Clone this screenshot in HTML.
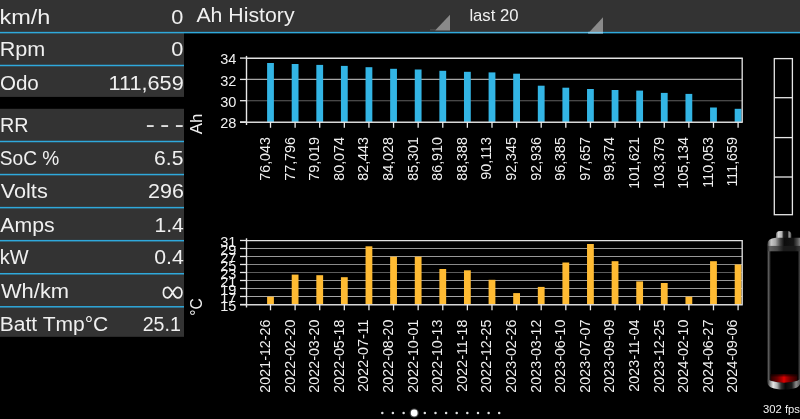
<!DOCTYPE html>
<html><head><meta charset="utf-8"><title>Ah History</title>
<style>
html,body{margin:0;padding:0;background:#000;}
body{width:800px;height:419px;overflow:hidden;position:relative;font-family:"Liberation Sans",sans-serif;color:#fff;}
svg{position:absolute;left:0;top:0;display:block;will-change:transform;}
svg text{font-family:"Liberation Sans",sans-serif;fill:#f0f0f0;white-space:pre;}
</style></head><body>

<svg width="800" height="419" viewBox="0 0 800 419">
<rect x="0" y="0" width="800" height="32.6" fill="#333333"/>
<rect x="0" y="32" width="184" height="64.9" fill="#333333"/>
<rect x="0" y="108.8" width="184" height="228" fill="#333333"/>
<rect x="0" y="31.85" width="800" height="1.50" fill="#2fa9dc"/>
<rect x="0" y="64.75" width="184" height="1.50" fill="#2fa9dc"/>
<rect x="0" y="140.75" width="184" height="1.50" fill="#2fa9dc"/>
<rect x="0" y="173.81" width="184" height="1.50" fill="#2fa9dc"/>
<rect x="0" y="206.87" width="184" height="1.50" fill="#2fa9dc"/>
<rect x="0" y="239.93" width="184" height="1.50" fill="#2fa9dc"/>
<rect x="0" y="272.99" width="184" height="1.50" fill="#2fa9dc"/>
<rect x="0" y="306.05" width="184" height="1.50" fill="#2fa9dc"/>
<rect x="146.9" y="125.2" width="6.8" height="1.7" fill="#f2f2f2"/>
<rect x="161.3" y="125.2" width="6.8" height="1.7" fill="#f2f2f2"/>
<rect x="175.9" y="125.2" width="6.8" height="1.7" fill="#f2f2f2"/>
<path d="M172.6 292.6 C173.8 290.6 175.3 287.3 177.7 287.3 C180.2 287.3 181.9 289.6 181.9 292.6 C181.9 295.6 180.2 297.9 177.7 297.9 C175.3 297.9 173.8 294.6 172.6 292.6 C171.4 290.6 169.9 287.3 167.5 287.3 C165.0 287.3 163.4 289.6 163.4 292.6 C163.4 295.6 165.0 297.9 167.5 297.9 C169.9 297.9 171.4 294.6 172.6 292.6 Z" fill="none" stroke="#f2f2f2" stroke-width="1.7"/>
<polygon points="435,30.4 450,30.4 450,14.8" fill="#8a8a8a"/>
<rect x="430" y="29.4" width="6" height="1" fill="#555"/>
<polygon points="588,33.4 603,33.4 603,17.2" fill="#8a8a8a"/>
<rect x="460" y="31.85" width="128" height="1.5" fill="#fff" fill-opacity="0.16"/>
<rect x="588" y="31.85" width="15" height="1.5" fill="#7dcbed"/>
<text transform="translate(-0.58,23.50) scale(1.1199,1)" font-size="21" fill="#f2f2f2">km/h</text>
<text transform="translate(-0.32,56.40) scale(1.0289,1)" font-size="21" fill="#f2f2f2">Rpm</text>
<text transform="translate(-0.10,89.70) scale(0.9804,1)" font-size="21" fill="#f2f2f2">Odo</text>
<text transform="translate(-0.07,131.70) scale(0.9403,1)" font-size="21" fill="#f2f2f2">RR</text>
<text transform="translate(-0.14,165.30) scale(0.9102,1)" font-size="21" fill="#f2f2f2">SoC %</text>
<text transform="translate(0.67,198.30) scale(1.0342,1)" font-size="21" fill="#f2f2f2">Volts</text>
<text transform="translate(0.35,231.60) scale(1.0127,1)" font-size="21" fill="#f2f2f2">Amps</text>
<text transform="translate(-0.34,264.40) scale(0.9516,1)" font-size="21" fill="#f2f2f2">kW</text>
<text transform="translate(0.94,297.60) scale(1.0435,1)" font-size="21" fill="#f2f2f2">Wh/km</text>
<text transform="translate(-0.17,330.80) scale(1.0010,1)" font-size="21" fill="#f2f2f2">Batt Tmp°C</text>
<text transform="translate(171.22,23.50) scale(1.0365,1)" font-size="21" fill="#f2f2f2">0</text>
<text transform="translate(171.22,56.40) scale(1.0365,1)" font-size="21" fill="#f2f2f2">0</text>
<text transform="translate(108.52,89.70) scale(1.0335,1)" font-size="21" fill="#f2f2f2">111,659</text>
<text transform="translate(154.04,165.30) scale(1.0048,1)" font-size="21" fill="#f2f2f2">6.5</text>
<text transform="translate(148.04,198.30) scale(1.0251,1)" font-size="21" fill="#f2f2f2">296</text>
<text transform="translate(154.46,231.60) scale(1.0052,1)" font-size="21" fill="#f2f2f2">1.4</text>
<text transform="translate(154.24,264.40) scale(1.0129,1)" font-size="21" fill="#f2f2f2">0.4</text>
<text transform="translate(142.64,330.80) scale(0.9347,1)" font-size="21" fill="#f2f2f2">25.1</text>
<text transform="translate(196.43,21.60) scale(1.0745,1)" font-size="19.8" fill="#f2f2f2">Ah History</text>
<text transform="translate(469.38,20.80) scale(1.0637,1)" font-size="15.7" fill="#f2f2f2">last 20</text>
<text transform="translate(762.89,413.00) scale(1.0106,1)" font-size="11.2" fill="#e4e4e4">302 fps</text>
<line x1="246.5" y1="79.40" x2="742.2" y2="79.40" stroke="#a6a6a6" stroke-width="1.15"/>
<line x1="246.5" y1="100.70" x2="742.2" y2="100.70" stroke="#606060" stroke-width="1.15"/>
<rect x="267.10" y="63.00" width="6.80" height="59.00" fill="#33b5e5"/>
<rect x="291.71" y="64.00" width="6.80" height="58.00" fill="#33b5e5"/>
<rect x="316.32" y="64.90" width="6.80" height="57.10" fill="#33b5e5"/>
<rect x="340.93" y="65.90" width="6.80" height="56.10" fill="#33b5e5"/>
<rect x="365.54" y="67.20" width="6.80" height="54.80" fill="#33b5e5"/>
<rect x="390.15" y="68.80" width="6.80" height="53.20" fill="#33b5e5"/>
<rect x="414.76" y="69.50" width="6.80" height="52.50" fill="#33b5e5"/>
<rect x="439.37" y="70.80" width="6.80" height="51.20" fill="#33b5e5"/>
<rect x="463.98" y="71.80" width="6.80" height="50.20" fill="#33b5e5"/>
<rect x="488.59" y="72.40" width="6.80" height="49.60" fill="#33b5e5"/>
<rect x="513.20" y="73.70" width="6.80" height="48.30" fill="#33b5e5"/>
<rect x="537.81" y="85.70" width="6.80" height="36.30" fill="#33b5e5"/>
<rect x="562.42" y="87.70" width="6.80" height="34.30" fill="#33b5e5"/>
<rect x="587.03" y="89.00" width="6.80" height="33.00" fill="#33b5e5"/>
<rect x="611.64" y="90.00" width="6.80" height="32.00" fill="#33b5e5"/>
<rect x="636.25" y="90.60" width="6.80" height="31.40" fill="#33b5e5"/>
<rect x="660.86" y="92.90" width="6.80" height="29.10" fill="#33b5e5"/>
<rect x="685.47" y="93.90" width="6.80" height="28.10" fill="#33b5e5"/>
<rect x="710.08" y="107.50" width="6.80" height="14.50" fill="#33b5e5"/>
<rect x="734.69" y="108.80" width="6.80" height="13.20" fill="#33b5e5"/>
<line x1="246.5" y1="55.90" x2="246.5" y2="125.00" stroke="#e8e8e8" stroke-width="1.4"/>
<line x1="240.0" y1="122.20" x2="742.8" y2="122.20" stroke="#d8d8d8" stroke-width="1.4"/>
<line x1="246.5" y1="58.25" x2="742.8" y2="58.25" stroke="#e2e2e2" stroke-width="1.4"/>
<line x1="742.2" y1="58.10" x2="742.2" y2="122.00" stroke="#d8d8d8" stroke-width="1.4"/>
<line x1="240.0" y1="58.10" x2="246.5" y2="58.10" stroke="#e8e8e8" stroke-width="1.3"/>
<text x="236.4" y="64.40" font-size="14.5" text-anchor="end">34</text>
<line x1="240.0" y1="79.40" x2="246.5" y2="79.40" stroke="#e8e8e8" stroke-width="1.3"/>
<text x="236.4" y="85.70" font-size="14.5" text-anchor="end">32</text>
<line x1="240.0" y1="100.70" x2="246.5" y2="100.70" stroke="#e8e8e8" stroke-width="1.3"/>
<text x="236.4" y="107.00" font-size="14.5" text-anchor="end">30</text>
<line x1="240.0" y1="122.00" x2="246.5" y2="122.00" stroke="#e8e8e8" stroke-width="1.3"/>
<text x="236.4" y="128.30" font-size="14.5" text-anchor="end">28</text>
<line x1="270.50" y1="122.00" x2="270.50" y2="127.80" stroke="#e8e8e8" stroke-width="1.3"/>
<text transform="translate(269.90,137.00) rotate(-90) scale(0.93,1)" font-size="15.4" text-anchor="end">76,043</text>
<line x1="295.11" y1="122.00" x2="295.11" y2="127.80" stroke="#e8e8e8" stroke-width="1.3"/>
<text transform="translate(294.51,137.00) rotate(-90) scale(0.93,1)" font-size="15.4" text-anchor="end">77,796</text>
<line x1="319.72" y1="122.00" x2="319.72" y2="127.80" stroke="#e8e8e8" stroke-width="1.3"/>
<text transform="translate(319.12,137.00) rotate(-90) scale(0.93,1)" font-size="15.4" text-anchor="end">79,019</text>
<line x1="344.33" y1="122.00" x2="344.33" y2="127.80" stroke="#e8e8e8" stroke-width="1.3"/>
<text transform="translate(343.73,137.00) rotate(-90) scale(0.93,1)" font-size="15.4" text-anchor="end">80,074</text>
<line x1="368.94" y1="122.00" x2="368.94" y2="127.80" stroke="#e8e8e8" stroke-width="1.3"/>
<text transform="translate(368.34,137.00) rotate(-90) scale(0.93,1)" font-size="15.4" text-anchor="end">82,443</text>
<line x1="393.55" y1="122.00" x2="393.55" y2="127.80" stroke="#e8e8e8" stroke-width="1.3"/>
<text transform="translate(392.95,137.00) rotate(-90) scale(0.93,1)" font-size="15.4" text-anchor="end">84,028</text>
<line x1="418.16" y1="122.00" x2="418.16" y2="127.80" stroke="#e8e8e8" stroke-width="1.3"/>
<text transform="translate(417.56,137.00) rotate(-90) scale(0.93,1)" font-size="15.4" text-anchor="end">85,301</text>
<line x1="442.77" y1="122.00" x2="442.77" y2="127.80" stroke="#e8e8e8" stroke-width="1.3"/>
<text transform="translate(442.17,137.00) rotate(-90) scale(0.93,1)" font-size="15.4" text-anchor="end">86,910</text>
<line x1="467.38" y1="122.00" x2="467.38" y2="127.80" stroke="#e8e8e8" stroke-width="1.3"/>
<text transform="translate(466.78,137.00) rotate(-90) scale(0.93,1)" font-size="15.4" text-anchor="end">88,388</text>
<line x1="491.99" y1="122.00" x2="491.99" y2="127.80" stroke="#e8e8e8" stroke-width="1.3"/>
<text transform="translate(491.39,137.00) rotate(-90) scale(0.93,1)" font-size="15.4" text-anchor="end">90,113</text>
<line x1="516.60" y1="122.00" x2="516.60" y2="127.80" stroke="#e8e8e8" stroke-width="1.3"/>
<text transform="translate(516.00,137.00) rotate(-90) scale(0.93,1)" font-size="15.4" text-anchor="end">92,345</text>
<line x1="541.21" y1="122.00" x2="541.21" y2="127.80" stroke="#e8e8e8" stroke-width="1.3"/>
<text transform="translate(540.61,137.00) rotate(-90) scale(0.93,1)" font-size="15.4" text-anchor="end">92,936</text>
<line x1="565.82" y1="122.00" x2="565.82" y2="127.80" stroke="#e8e8e8" stroke-width="1.3"/>
<text transform="translate(565.22,137.00) rotate(-90) scale(0.93,1)" font-size="15.4" text-anchor="end">96,385</text>
<line x1="590.43" y1="122.00" x2="590.43" y2="127.80" stroke="#e8e8e8" stroke-width="1.3"/>
<text transform="translate(589.83,137.00) rotate(-90) scale(0.93,1)" font-size="15.4" text-anchor="end">97,657</text>
<line x1="615.04" y1="122.00" x2="615.04" y2="127.80" stroke="#e8e8e8" stroke-width="1.3"/>
<text transform="translate(614.44,137.00) rotate(-90) scale(0.93,1)" font-size="15.4" text-anchor="end">99,374</text>
<line x1="639.65" y1="122.00" x2="639.65" y2="127.80" stroke="#e8e8e8" stroke-width="1.3"/>
<text transform="translate(639.05,137.00) rotate(-90) scale(0.93,1)" font-size="15.4" text-anchor="end">101,621</text>
<line x1="664.26" y1="122.00" x2="664.26" y2="127.80" stroke="#e8e8e8" stroke-width="1.3"/>
<text transform="translate(663.66,137.00) rotate(-90) scale(0.93,1)" font-size="15.4" text-anchor="end">103,379</text>
<line x1="688.87" y1="122.00" x2="688.87" y2="127.80" stroke="#e8e8e8" stroke-width="1.3"/>
<text transform="translate(688.27,137.00) rotate(-90) scale(0.93,1)" font-size="15.4" text-anchor="end">105,134</text>
<line x1="713.48" y1="122.00" x2="713.48" y2="127.80" stroke="#e8e8e8" stroke-width="1.3"/>
<text transform="translate(712.88,137.00) rotate(-90) scale(0.93,1)" font-size="15.4" text-anchor="end">110,053</text>
<line x1="738.09" y1="122.00" x2="738.09" y2="127.80" stroke="#e8e8e8" stroke-width="1.3"/>
<text transform="translate(737.49,137.00) rotate(-90) scale(0.93,1)" font-size="15.4" text-anchor="end">111,659</text>
<text transform="translate(202.20,124.00) rotate(-90) scale(1.02,1)" font-size="16.5" text-anchor="middle">Ah</text>
<line x1="246.5" y1="248.50" x2="742.2" y2="248.50" stroke="#999" stroke-width="1.15"/>
<line x1="246.5" y1="256.50" x2="742.2" y2="256.50" stroke="#999" stroke-width="1.15"/>
<line x1="246.5" y1="264.50" x2="742.2" y2="264.50" stroke="#8a8a8a" stroke-width="1.15"/>
<line x1="246.5" y1="272.50" x2="742.2" y2="272.50" stroke="#5c5c5c" stroke-width="1.15"/>
<line x1="246.5" y1="280.50" x2="742.2" y2="280.50" stroke="#999" stroke-width="1.15"/>
<line x1="246.5" y1="288.50" x2="742.2" y2="288.50" stroke="#999" stroke-width="1.15"/>
<line x1="246.5" y1="296.50" x2="742.2" y2="296.50" stroke="#a6a6a6" stroke-width="1.15"/>
<rect x="267.10" y="296.70" width="6.80" height="7.80" fill="#ffbb33"/>
<rect x="291.71" y="274.60" width="6.80" height="29.90" fill="#ffbb33"/>
<rect x="316.32" y="275.20" width="6.80" height="29.30" fill="#ffbb33"/>
<rect x="340.93" y="277.20" width="6.80" height="27.30" fill="#ffbb33"/>
<rect x="365.54" y="246.30" width="6.80" height="58.20" fill="#ffbb33"/>
<rect x="390.15" y="256.70" width="6.80" height="47.80" fill="#ffbb33"/>
<rect x="414.76" y="256.70" width="6.80" height="47.80" fill="#ffbb33"/>
<rect x="439.37" y="269.00" width="6.80" height="35.50" fill="#ffbb33"/>
<rect x="463.98" y="270.30" width="6.80" height="34.20" fill="#ffbb33"/>
<rect x="488.59" y="279.80" width="6.80" height="24.70" fill="#ffbb33"/>
<rect x="513.20" y="293.10" width="6.80" height="11.40" fill="#ffbb33"/>
<rect x="537.81" y="286.90" width="6.80" height="17.60" fill="#ffbb33"/>
<rect x="562.42" y="262.50" width="6.80" height="42.00" fill="#ffbb33"/>
<rect x="587.03" y="244.00" width="6.80" height="60.50" fill="#ffbb33"/>
<rect x="611.64" y="261.20" width="6.80" height="43.30" fill="#ffbb33"/>
<rect x="636.25" y="281.40" width="6.80" height="23.10" fill="#ffbb33"/>
<rect x="660.86" y="283.00" width="6.80" height="21.50" fill="#ffbb33"/>
<rect x="685.47" y="296.70" width="6.80" height="7.80" fill="#ffbb33"/>
<rect x="710.08" y="261.20" width="6.80" height="43.30" fill="#ffbb33"/>
<rect x="734.69" y="264.50" width="6.80" height="40.00" fill="#ffbb33"/>
<line x1="246.5" y1="238.30" x2="246.5" y2="307.50" stroke="#e8e8e8" stroke-width="1.4"/>
<line x1="240.0" y1="304.70" x2="742.8" y2="304.70" stroke="#d8d8d8" stroke-width="1.4"/>
<line x1="246.5" y1="240.65" x2="742.8" y2="240.65" stroke="#e2e2e2" stroke-width="1.4"/>
<line x1="742.2" y1="240.50" x2="742.2" y2="304.50" stroke="#d8d8d8" stroke-width="1.4"/>
<line x1="240.0" y1="240.50" x2="246.5" y2="240.50" stroke="#e8e8e8" stroke-width="1.3"/>
<text x="236.4" y="246.80" font-size="14.5" text-anchor="end">31</text>
<line x1="240.0" y1="248.50" x2="246.5" y2="248.50" stroke="#e8e8e8" stroke-width="1.3"/>
<text x="236.4" y="254.80" font-size="14.5" text-anchor="end">29</text>
<line x1="240.0" y1="256.50" x2="246.5" y2="256.50" stroke="#e8e8e8" stroke-width="1.3"/>
<text x="236.4" y="262.80" font-size="14.5" text-anchor="end">27</text>
<line x1="240.0" y1="264.50" x2="246.5" y2="264.50" stroke="#e8e8e8" stroke-width="1.3"/>
<text x="236.4" y="270.80" font-size="14.5" text-anchor="end">25</text>
<line x1="240.0" y1="272.50" x2="246.5" y2="272.50" stroke="#e8e8e8" stroke-width="1.3"/>
<text x="236.4" y="278.80" font-size="14.5" text-anchor="end">23</text>
<line x1="240.0" y1="280.50" x2="246.5" y2="280.50" stroke="#e8e8e8" stroke-width="1.3"/>
<text x="236.4" y="286.80" font-size="14.5" text-anchor="end">21</text>
<line x1="240.0" y1="288.50" x2="246.5" y2="288.50" stroke="#e8e8e8" stroke-width="1.3"/>
<text x="236.4" y="294.80" font-size="14.5" text-anchor="end">19</text>
<line x1="240.0" y1="296.50" x2="246.5" y2="296.50" stroke="#e8e8e8" stroke-width="1.3"/>
<text x="236.4" y="302.80" font-size="14.5" text-anchor="end">17</text>
<line x1="240.0" y1="304.50" x2="246.5" y2="304.50" stroke="#e8e8e8" stroke-width="1.3"/>
<text x="236.4" y="310.80" font-size="14.5" text-anchor="end">15</text>
<line x1="270.50" y1="304.50" x2="270.50" y2="310.30" stroke="#e8e8e8" stroke-width="1.3"/>
<text transform="translate(269.90,319.50) rotate(-90) scale(0.93,1)" font-size="15.4" text-anchor="end">2021-12-26</text>
<line x1="295.11" y1="304.50" x2="295.11" y2="310.30" stroke="#e8e8e8" stroke-width="1.3"/>
<text transform="translate(294.51,319.50) rotate(-90) scale(0.93,1)" font-size="15.4" text-anchor="end">2022-02-20</text>
<line x1="319.72" y1="304.50" x2="319.72" y2="310.30" stroke="#e8e8e8" stroke-width="1.3"/>
<text transform="translate(319.12,319.50) rotate(-90) scale(0.93,1)" font-size="15.4" text-anchor="end">2022-03-20</text>
<line x1="344.33" y1="304.50" x2="344.33" y2="310.30" stroke="#e8e8e8" stroke-width="1.3"/>
<text transform="translate(343.73,319.50) rotate(-90) scale(0.93,1)" font-size="15.4" text-anchor="end">2022-05-18</text>
<line x1="368.94" y1="304.50" x2="368.94" y2="310.30" stroke="#e8e8e8" stroke-width="1.3"/>
<text transform="translate(368.34,319.50) rotate(-90) scale(0.93,1)" font-size="15.4" text-anchor="end">2022-07-11</text>
<line x1="393.55" y1="304.50" x2="393.55" y2="310.30" stroke="#e8e8e8" stroke-width="1.3"/>
<text transform="translate(392.95,319.50) rotate(-90) scale(0.93,1)" font-size="15.4" text-anchor="end">2022-08-20</text>
<line x1="418.16" y1="304.50" x2="418.16" y2="310.30" stroke="#e8e8e8" stroke-width="1.3"/>
<text transform="translate(417.56,319.50) rotate(-90) scale(0.93,1)" font-size="15.4" text-anchor="end">2022-10-01</text>
<line x1="442.77" y1="304.50" x2="442.77" y2="310.30" stroke="#e8e8e8" stroke-width="1.3"/>
<text transform="translate(442.17,319.50) rotate(-90) scale(0.93,1)" font-size="15.4" text-anchor="end">2022-10-13</text>
<line x1="467.38" y1="304.50" x2="467.38" y2="310.30" stroke="#e8e8e8" stroke-width="1.3"/>
<text transform="translate(466.78,319.50) rotate(-90) scale(0.93,1)" font-size="15.4" text-anchor="end">2022-11-18</text>
<line x1="491.99" y1="304.50" x2="491.99" y2="310.30" stroke="#e8e8e8" stroke-width="1.3"/>
<text transform="translate(491.39,319.50) rotate(-90) scale(0.93,1)" font-size="15.4" text-anchor="end">2022-12-25</text>
<line x1="516.60" y1="304.50" x2="516.60" y2="310.30" stroke="#e8e8e8" stroke-width="1.3"/>
<text transform="translate(516.00,319.50) rotate(-90) scale(0.93,1)" font-size="15.4" text-anchor="end">2023-02-26</text>
<line x1="541.21" y1="304.50" x2="541.21" y2="310.30" stroke="#e8e8e8" stroke-width="1.3"/>
<text transform="translate(540.61,319.50) rotate(-90) scale(0.93,1)" font-size="15.4" text-anchor="end">2023-03-12</text>
<line x1="565.82" y1="304.50" x2="565.82" y2="310.30" stroke="#e8e8e8" stroke-width="1.3"/>
<text transform="translate(565.22,319.50) rotate(-90) scale(0.93,1)" font-size="15.4" text-anchor="end">2023-06-10</text>
<line x1="590.43" y1="304.50" x2="590.43" y2="310.30" stroke="#e8e8e8" stroke-width="1.3"/>
<text transform="translate(589.83,319.50) rotate(-90) scale(0.93,1)" font-size="15.4" text-anchor="end">2023-07-07</text>
<line x1="615.04" y1="304.50" x2="615.04" y2="310.30" stroke="#e8e8e8" stroke-width="1.3"/>
<text transform="translate(614.44,319.50) rotate(-90) scale(0.93,1)" font-size="15.4" text-anchor="end">2023-09-09</text>
<line x1="639.65" y1="304.50" x2="639.65" y2="310.30" stroke="#e8e8e8" stroke-width="1.3"/>
<text transform="translate(639.05,319.50) rotate(-90) scale(0.93,1)" font-size="15.4" text-anchor="end">2023-11-04</text>
<line x1="664.26" y1="304.50" x2="664.26" y2="310.30" stroke="#e8e8e8" stroke-width="1.3"/>
<text transform="translate(663.66,319.50) rotate(-90) scale(0.93,1)" font-size="15.4" text-anchor="end">2023-12-25</text>
<line x1="688.87" y1="304.50" x2="688.87" y2="310.30" stroke="#e8e8e8" stroke-width="1.3"/>
<text transform="translate(688.27,319.50) rotate(-90) scale(0.93,1)" font-size="15.4" text-anchor="end">2024-02-10</text>
<line x1="713.48" y1="304.50" x2="713.48" y2="310.30" stroke="#e8e8e8" stroke-width="1.3"/>
<text transform="translate(712.88,319.50) rotate(-90) scale(0.93,1)" font-size="15.4" text-anchor="end">2024-06-27</text>
<line x1="738.09" y1="304.50" x2="738.09" y2="310.30" stroke="#e8e8e8" stroke-width="1.3"/>
<text transform="translate(737.49,319.50) rotate(-90) scale(0.93,1)" font-size="15.4" text-anchor="end">2024-09-06</text>
<text transform="translate(202.10,306.90) rotate(-90) scale(0.95,1)" font-size="16.5" text-anchor="middle">°C</text>
<rect x="774.3" y="58.6" width="18.1" height="156.1" fill="none" stroke="#e6e6e6" stroke-width="1.3"/>
<line x1="774.3" y1="97.7" x2="792.4" y2="97.7" stroke="#e6e6e6" stroke-width="1.3"/>
<line x1="774.3" y1="137.6" x2="792.4" y2="137.6" stroke="#e6e6e6" stroke-width="1.3"/>
<line x1="774.3" y1="177.0" x2="792.4" y2="177.0" stroke="#e6e6e6" stroke-width="1.3"/>
<defs>
<linearGradient id="cap1" x1="0" y1="0" x2="1" y2="0">
<stop offset="0" stop-color="#222"/><stop offset="0.05" stop-color="#777"/><stop offset="0.12" stop-color="#c8c8c8"/><stop offset="0.25" stop-color="#a8a8a8"/><stop offset="0.4" stop-color="#444"/><stop offset="0.52" stop-color="#0c0c0c"/><stop offset="0.8" stop-color="#141414"/><stop offset="0.93" stop-color="#555"/><stop offset="1" stop-color="#858585"/>
</linearGradient>
<linearGradient id="cap2" x1="0" y1="0" x2="1" y2="0">
<stop offset="0" stop-color="#222"/><stop offset="0.08" stop-color="#606060"/><stop offset="0.3" stop-color="#4a4a4a"/><stop offset="0.5" stop-color="#1a1a1a"/><stop offset="0.85" stop-color="#1a1a1a"/><stop offset="1" stop-color="#383838"/>
</linearGradient>
<linearGradient id="nub" x1="0" y1="0" x2="1" y2="0">
<stop offset="0" stop-color="#666"/><stop offset="0.15" stop-color="#d8d8d8"/><stop offset="0.38" stop-color="#b0b0b0"/><stop offset="0.5" stop-color="#1a1a1a"/><stop offset="0.75" stop-color="#111"/><stop offset="0.86" stop-color="#999"/><stop offset="1" stop-color="#555"/>
</linearGradient>
<linearGradient id="wallL" x1="0" y1="0" x2="1" y2="0">
<stop offset="0" stop-color="#000"/><stop offset="0.4" stop-color="#5c5c5c"/><stop offset="1" stop-color="#000"/>
</linearGradient>
<linearGradient id="wallR" x1="0" y1="0" x2="1" y2="0">
<stop offset="0" stop-color="#000"/><stop offset="1" stop-color="#4a4a4a"/>
</linearGradient>
<linearGradient id="bot" x1="0" y1="0" x2="1" y2="0">
<stop offset="0" stop-color="#222"/><stop offset="0.08" stop-color="#888"/><stop offset="0.18" stop-color="#e8e8e8"/><stop offset="0.3" stop-color="#b0b0b0"/><stop offset="0.42" stop-color="#333"/><stop offset="0.55" stop-color="#080808"/><stop offset="0.75" stop-color="#1a1a1a"/><stop offset="0.88" stop-color="#8a8a8a"/><stop offset="1" stop-color="#555"/>
</linearGradient>
<linearGradient id="red" x1="0" y1="0" x2="1" y2="0">
<stop offset="0" stop-color="#2a0000"/><stop offset="0.25" stop-color="#6a0000"/><stop offset="0.42" stop-color="#b00000"/><stop offset="0.5" stop-color="#e00000"/><stop offset="0.58" stop-color="#b00000"/><stop offset="0.75" stop-color="#6a0000"/><stop offset="1" stop-color="#2a0000"/>
</linearGradient>
<linearGradient id="redfade" x1="0" y1="0" x2="0" y2="1">
<stop offset="0" stop-color="#000" stop-opacity="0.8"/><stop offset="0.35" stop-color="#000" stop-opacity="0"/>
</linearGradient>
</defs>
<rect x="766.9" y="250" width="4.1" height="132" fill="url(#wallL)"/>
<rect x="797.6" y="250" width="2.4" height="132" fill="url(#wallR)"/>
<path d="M776 238.4 L776 234.4 Q776 230.9 780 230.9 L787.3 230.9 Q791.3 230.9 791.3 234.4 L791.3 238.4 Z" fill="url(#nub)"/>
<path d="M767.2 246.2 L767.2 244.4 Q767.4 238.6 775.5 237.8 L800 237.8 L800 246.2 Z" fill="url(#cap1)"/>
<rect x="767.2" y="245.9" width="32.8" height="5.4" fill="url(#cap2)"/>
<path d="M770.6 374.2 L797.4 374.2 L797.4 381 Q784 385 770.6 381 Z" fill="url(#red)"/>
<path d="M770.6 374.2 L797.4 374.2 L797.4 381 Q784 385 770.6 381 Z" fill="url(#redfade)"/>
<path d="M767.3 379.3 L770.6 380.7 Q784 384.9 797.4 380.7 L800 379.3 L800 384 C799 387.3 795 389.3 784 389.6 C773 389.3 768.3 387.3 767.3 383 Z" fill="url(#bot)"/>
<circle cx="382.3" cy="413" r="1.25" fill="#ddd"/>
<circle cx="392.9" cy="413" r="1.25" fill="#ddd"/>
<circle cx="403.6" cy="413" r="1.25" fill="#ddd"/>
<circle cx="414.2" cy="413" r="4.6" fill="#888" fill-opacity="0.5"/>
<circle cx="414.2" cy="413" r="3.4" fill="#fff"/>
<circle cx="424.8" cy="413" r="1.25" fill="#ddd"/>
<circle cx="435.5" cy="413" r="1.25" fill="#ddd"/>
<circle cx="446.1" cy="413" r="1.25" fill="#ddd"/>
<circle cx="456.7" cy="413" r="1.25" fill="#ddd"/>
<circle cx="467.3" cy="413" r="1.25" fill="#ddd"/>
<circle cx="478.0" cy="413" r="1.25" fill="#ddd"/>
<circle cx="488.6" cy="413" r="1.25" fill="#ddd"/>
<circle cx="499.2" cy="413" r="1.25" fill="#ddd"/>
</svg>
</body></html>
